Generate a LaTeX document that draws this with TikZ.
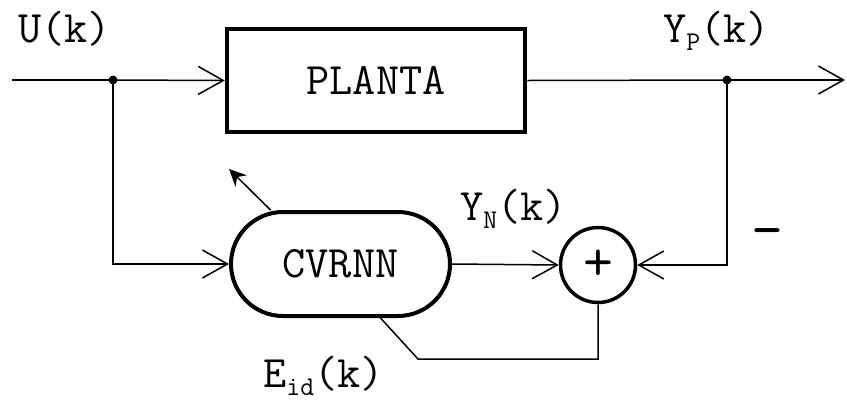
\documentclass[tikz,border=0pt]{standalone}
\usepackage{fontspec}
\usetikzlibrary{arrows.meta,positioning,shapes.misc,calc}

\tikzset{
  sig/.style={line width=1.5bp},
  opentip/.style={-{Straight Barb[length=25bp,width=28bp,line width=1.5bp]}},
  blockbox/.style={draw,line width=4.5bp,minimum width=298bp,minimum height=103bp,inner sep=0pt},
  nnbox/.style={draw,rounded rectangle,line width=4bp,minimum width=219bp,minimum height=104bp,inner sep=0pt},
  sumcirc/.style={draw,circle,line width=3.5bp,minimum size=75bp,inner sep=0pt,font=\fontsize{58bp}{58bp}\selectfont\ttfamily},
  lbl/.style={inner sep=0pt}
}
\newcommand{\lowsub}[1]{\raisebox{-8bp}{\fontsize{27bp}{30bp}\selectfont #1}}

\begin{document}
\begin{tikzpicture}[x=1bp,y=-1bp,every node/.style={font=\fontsize{45bp}{54bp}\selectfont\ttfamily}]
\useasboundingbox (0,0) rectangle (847,400);
\coordinate (in) at (12,80);
\coordinate (out) at (845,80);
\coordinate (uSplit) at (113,80);
\coordinate (ySplit) at (727,80);
\coordinate (eBend) at (418,359);
\coordinate (adapt) at (229,169);
\node[blockbox] (planta) at (376,80.5) {PLANTA};
\node[nnbox] (cvrnn) at (340.5,264) {CVRNN};
\node[sumcirc] (sum) at (598,265) {+};
% signal paths
\draw[sig] (in) -- (uSplit);
\draw[sig,opentip] (uSplit) -- (planta.west);
\draw[sig] (planta.east) -- (ySplit);
\draw[sig,opentip] (ySplit) -- (out);
\draw[sig,opentip] (uSplit) |- (cvrnn.west);
\draw[sig,opentip] (cvrnn.east) -- (sum.west);
\draw[sig,opentip] (ySplit) |- (sum.east);
\draw[sig] (sum.south) |- (eBend) -- ($(cvrnn.south)+(40,0)$);
\draw[line width=1.5bp,-{Stealth[length=17bp,width=16bp]}] ($(cvrnn.north)+(-70,0)$) -- (adapt);
\fill (uSplit) circle (4.5bp);
\fill (ySplit) circle (4.5bp);
% labels
\node[lbl,anchor=base west] (uLbl) at (18,42) {U(k)};
\node[lbl,anchor=base west] (ypLbl) at (663,42) {Y\lowsub{P}(k)};
\node[lbl,anchor=base west] (ynLbl) at (460,220) {Y\lowsub{N}(k)};
\node[lbl,anchor=base west] (eLbl) at (263,387) {E\lowsub{id}(k)};
\node[lbl,font=\fontsize{62bp}{62bp}\selectfont\ttfamily] (minus) at (767,239) {-};
\end{tikzpicture}
\end{document}
